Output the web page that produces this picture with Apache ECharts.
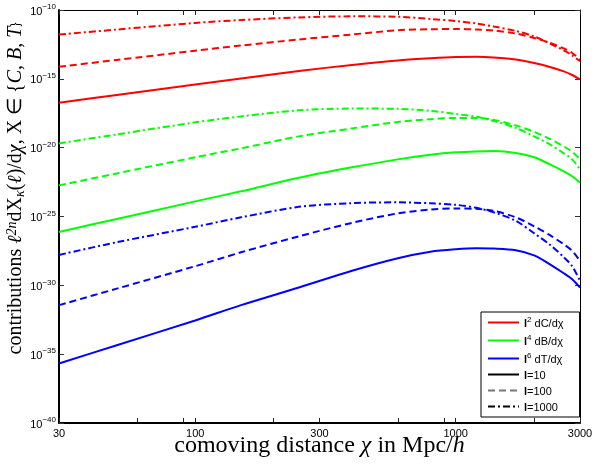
<!DOCTYPE html>
<html>
<head>
<meta charset="utf-8">
<script src="https://cdn.jsdelivr.net/npm/echarts@6/dist/echarts.min.js"></script>
<style>
  html, body { margin: 0; padding: 0; background: #fff; }
  #chart { width: 594px; height: 465px; }
</style>
</head>
<body>
<div id="chart"></div>
<script>
// Comoving distance samples (Mpc/h)
const chi = [30, 50, 100, 150, 250, 400, 600, 800, 1000, 1200, 1400, 1700, 2000, 2300, 2600, 2800, 3000];

// log10 of the contributions: C (l^2 dC/dchi), B (l^4 dB/dchi), T (l^6 dT/dchi)
const logC_l10   = [-16.73, -16.17, -15.41, -14.97, -14.43, -13.99, -13.66, -13.51, -13.42, -13.40, -13.45, -13.59, -13.85, -14.14, -14.46, -14.72, -15.04];
const logC_l100  = [-14.12, -13.63, -12.96, -12.58, -12.14, -11.78, -11.47, -11.40, -11.38, -11.42, -11.49, -11.71, -12.03, -12.39, -12.79, -13.12, -13.59];
const logC_l1000 = [-11.78, -11.42, -10.94, -10.73, -10.54, -10.46, -10.49, -10.65, -10.80, -10.98, -11.20, -11.52, -11.92, -12.43, -12.94, -13.30, -13.72];

const logB_l10   = [-26.12, -25.18, -23.90, -23.17, -22.19, -21.43, -20.85, -20.52, -20.34, -20.27, -20.25, -20.38, -20.70, -21.21, -21.72, -22.08, -22.54];
const logB_l100  = [-22.74, -21.87, -20.70, -20.05, -19.18, -18.60, -18.13, -17.93, -17.84, -17.84, -17.98, -18.38, -18.85, -19.36, -19.91, -20.30, -20.85];
const logB_l1000 = [-19.69, -19.04, -18.16, -17.73, -17.29, -17.16, -17.18, -17.33, -17.55, -17.76, -18.06, -18.56, -19.18, -19.76, -20.41, -20.85, -21.58];

const logT_l10   = [-35.68, -34.35, -32.55, -31.44, -30.16, -28.94, -28.03, -27.56, -27.38, -27.31, -27.33, -27.45, -27.82, -28.47, -29.12, -29.56, -30.16];
const logT_l100  = [-31.44, -30.24, -28.61, -27.60, -26.44, -25.46, -24.77, -24.50, -24.42, -24.44, -24.59, -25.06, -25.71, -26.36, -27.02, -27.49, -28.23];
const logT_l1000 = [-27.79, -26.87, -25.75, -25.06, -24.30, -24.03, -23.97, -24.04, -24.15, -24.37, -24.70, -25.31, -26.22, -27.05, -27.96, -28.61, -29.68];

// Axis ticks
const xTickValues  = [30, 60, 90, 100, 200, 300, 600, 900, 1000, 2000, 3000];
const xLabelValues = [30, 100, 300, 1000, 3000];

const RED = '#ff0000', GREEN = '#00ff00', BLUE = '#0000ff';
const DASHED = [7, 4];
const DASHDOT = [7, 3, 2, 3];

function curve(values, color, dash) {
  return {
    type: 'line',
    xAxisIndex: 0,
    yAxisIndex: 0,
    data: chi.map((c, i) => [c, values[i]]),
    symbol: 'none',
    smooth: 0.3,
    silent: true,
    lineStyle: { color: color, width: 2, type: dash }
  };
}

function legendEntry(name, color, dash) {
  return {
    type: 'line', name: name, data: [], symbol: 'none',
    xAxisIndex: 0, yAxisIndex: 0,
    itemStyle: { color: color, opacity: 0 },
    lineStyle: { color: color, width: 1, type: dash }
  };
}

const legendText = {
  C: '{b|l}{sup|2}{t| dC/dχ}',
  B: '{b|l}{sup|4}{t| dB/dχ}',
  T: '{b|l}{sup|6}{t| dT/dχ}',
  l10: '{b|l}{t|=10}',
  l100: '{b|l}{t|=100}',
  l1000: '{b|l}{t|=1000}'
};

const serif = 'Liberation Serif';
const sans = 'Liberation Sans';

const yName = '{n|contributions }{it|ℓ}{sup|2n}{n|dX}{sub|κ}{n|(}{it|ℓ}{n|)/d}{it|χ}{n|, X ∈ {}{it|C}{n|, }{it|B}{n|, }{it|T}{n|}}';
const xName = '{n|comoving distance }{it|χ}{n| in Mpc/}{it|h}';

function titleRich(size) {
  const small = Math.round(size * 0.68);
  return {
    n:   { fontFamily: serif, fontSize: size, lineHeight: size + 2, color: '#000' },
    it:  { fontFamily: serif, fontSize: size, lineHeight: size + 2, fontStyle: 'italic', color: '#000' },
    sup: { fontFamily: serif, fontSize: small, lineHeight: small + 1, fontStyle: 'italic', verticalAlign: 'top', color: '#000' },
    sub: { fontFamily: serif, fontSize: small, lineHeight: small + 4, fontStyle: 'italic', verticalAlign: 'bottom', color: '#000' }
  };
}

const chart = echarts.init(document.getElementById('chart'), null, { renderer: 'canvas' });

chart.setOption({
  animation: false,
  backgroundColor: '#fff',
  grid: { left: 59, right: 14, top: 10, bottom: 42, containLabel: false, outerBoundsMode: 'none' },
  legend: {
    data: ['C', 'B', 'T', 'l10', 'l100', 'l1000'],
    orient: 'vertical',
    left: 481,
    top: 312,
    itemWidth: 31,
    itemHeight: 10,
    itemGap: 5,
    padding: [4, 16, 4, 6],
    backgroundColor: '#fff',
    borderColor: '#000',
    borderWidth: 1,
    borderRadius: 0,
    selectedMode: false,
    itemStyle: { opacity: 0, borderWidth: 0 },
    formatter: name => legendText[name],
    textStyle: {
      color: '#000',
      fontFamily: sans,
      fontSize: 11,
      rich: {
        b:   { fontFamily: sans, fontSize: 11, fontWeight: 'bold', lineHeight: 13, verticalAlign: 'bottom', color: '#000' },
        t:   { fontFamily: sans, fontSize: 11, lineHeight: 13, verticalAlign: 'bottom', color: '#000' },
        sup: { fontFamily: sans, fontSize: 8, lineHeight: 8, verticalAlign: 'top', color: '#000' }
      }
    }
  },
  xAxis: [
    {
      type: 'log', logBase: 10, min: 30, max: 3000, position: 'bottom',
      axisLine: { show: true, lineStyle: { color: '#000', width: 2 } },
      axisTick: { show: true, inside: true, length: 5, customValues: xTickValues, lineStyle: { color: '#222', width: 1 } },
      minorTick: { show: false },
      axisLabel: {
        show: true, customValues: xLabelValues, margin: 5,
        fontFamily: sans, fontSize: 11, color: '#000',
        formatter: v => String(Math.round(v))
      },
      splitLine: { show: false },
      name: xName,
      nameLocation: 'middle',
      nameGap: 10,
      nameMoveOverlap: false,
      nameTextStyle: { rich: titleRich(24) }
    },
    {
      type: 'log', logBase: 10, min: 30, max: 3000, position: 'top',
      axisLine: { show: true, lineStyle: { color: '#000', width: 1 } },
      axisTick: { show: true, inside: true, length: 5, customValues: xTickValues, lineStyle: { color: '#222', width: 1 } },
      minorTick: { show: false },
      axisLabel: { show: false },
      splitLine: { show: false }
    }
  ],
  yAxis: [
    {
      type: 'value', min: -40, max: -10, interval: 5, position: 'left',
      axisLine: { show: true, lineStyle: { color: '#000', width: 2 } },
      axisTick: { show: true, inside: true, length: 5, lineStyle: { color: '#333', width: 1 } },
      axisLabel: {
        margin: 3,
        formatter: v => '{b|10}{s|' + (v < 0 ? '−' + (-v) : v) + '}',
        rich: {
          b: { fontFamily: sans, fontSize: 11, color: '#000', padding: [3, 0, 0, 0], verticalAlign: 'bottom' },
          s: { fontFamily: sans, fontSize: 8, color: '#000', verticalAlign: 'top' }
        }
      },
      splitLine: { show: false },
      name: yName,
      nameLocation: 'middle',
      nameRotate: 90,
      nameGap: 32,
      nameMoveOverlap: false,
      nameTextStyle: { rich: titleRich(20), padding: [0, 0, 0, 56] }
    },
    {
      type: 'value', min: -40, max: -10, interval: 5, position: 'right',
      axisLine: { show: true, lineStyle: { color: '#000', width: 1 } },
      axisTick: { show: true, inside: true, length: 5, lineStyle: { color: '#333', width: 1 } },
      axisLabel: { show: false },
      splitLine: { show: false }
    }
  ],
  series: [
    curve(logC_l10, RED, 'solid'),
    curve(logC_l100, RED, DASHED),
    curve(logC_l1000, RED, DASHDOT),
    curve(logB_l10, GREEN, 'solid'),
    curve(logB_l100, GREEN, DASHED),
    curve(logB_l1000, GREEN, DASHDOT),
    curve(logT_l10, BLUE, 'solid'),
    curve(logT_l100, BLUE, DASHED),
    curve(logT_l1000, BLUE, DASHDOT),
    legendEntry('C', RED, 'solid'),
    legendEntry('B', GREEN, 'solid'),
    legendEntry('T', BLUE, 'solid'),
    legendEntry('l10', '#000', 'solid'),
    legendEntry('l100', '#777', DASHED),
    legendEntry('l1000', '#000', DASHDOT)
  ]
});
</script>
</body>
</html>
